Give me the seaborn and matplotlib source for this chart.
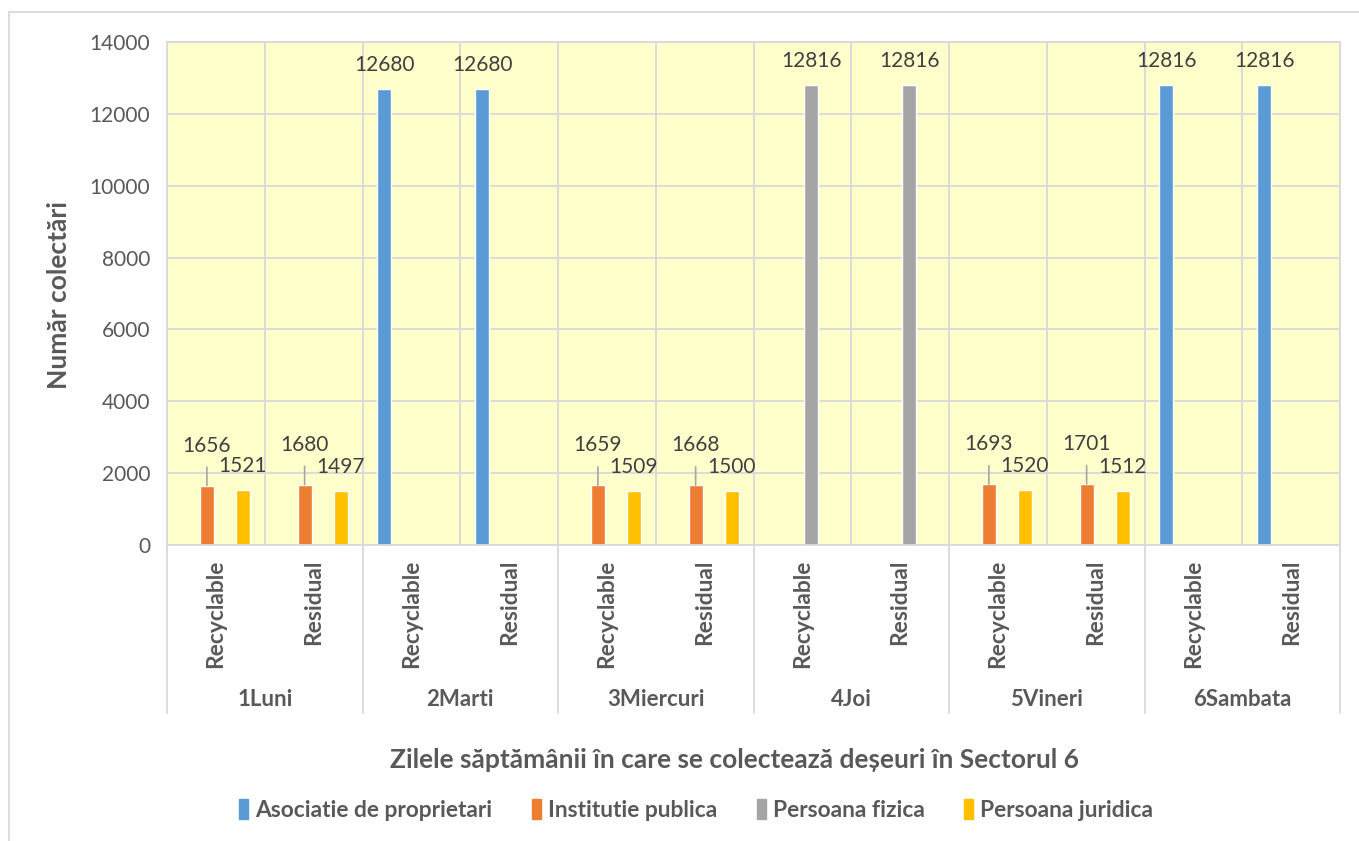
import pandas as pd
import matplotlib
matplotlib.use('Agg')
import matplotlib.pyplot as plt
import matplotlib.transforms as mtransforms
from matplotlib.patches import Rectangle
import seaborn as sns

# data
days = ['1Luni', '2Marti', '3Miercuri', '4Joi', '5Vineri', '6Sambata']
types = ['Recyclable', 'Residual']
series = ['Asociatie de proprietari', 'Institutie publica', 'Persoana fizica', 'Persoana juridica']
asociatie = [0, 0, 12680, 12680, 0, 0, 0, 0, 0, 0, 12816, 12816]
institutie = [1656, 1680, 0, 0, 1659, 1668, 0, 0, 1693, 1701, 0, 0]
fizica = [0, 0, 0, 0, 0, 0, 12816, 12816, 0, 0, 0, 0]
juridica = [1521, 1497, 0, 0, 1509, 1500, 0, 0, 1520, 1512, 0, 0]
colors = ['#5B9BD5', '#ED7D31', '#A5A5A5', '#FFC000']

cats = [d + '|' + t for d in days for t in types]
rows = []
for name, vals in zip(series, [asociatie, institutie, fizica, juridica]):
    for c, v in zip(cats, vals):
        rows.append({'cat': c, 'serie': name, 'val': v})
df = pd.DataFrame(rows)

sns.set_theme(style='white')
plt.rcParams['font.family'] = ['Lato', 'DejaVu Sans']
grey_txt = '#595959'
grid_c = '#D9D9D9'

fig = plt.figure(figsize=(13.59, 8.41), dpi=100)
ax = fig.add_axes([167 / 1359, 1 - 545 / 841, (1340 - 167) / 1359, (545 - 42) / 841])
ax.set_facecolor('#FFFFCC')

sns.barplot(data=df, x='cat', y='val', hue='serie', order=cats, hue_order=series,
            palette=colors, width=0.736, gap=0.22, errorbar=None, ax=ax,
            legend=False, saturation=1)

ax.set_ylim(0, 14000)
ax.set_xlim(-0.5, len(cats) - 0.5)
ax.set_yticks(range(0, 14001, 2000))
ax.tick_params(axis='y', labelsize=15, colors=grey_txt, length=0, pad=12)
ax.set_xticks([])
ax.set_xlabel('')
ax.set_ylabel('')
ax.yaxis.grid(True, color=grid_c, linewidth=1.3)
for i in range(len(cats) + 1):
    ax.axvline(i - 0.5, color=grid_c, linewidth=1.3, zorder=0.5)
ax.set_axisbelow(True)
for s in ax.spines.values():
    s.set_color(grid_c)
    s.set_linewidth(1.3)

# data labels
for k, cont in enumerate(ax.containers):
    for bar in cont:
        h = bar.get_height()
        if h <= 0:
            continue
        x = bar.get_x() + bar.get_width() / 2
        if series[k] == 'Institutie publica':
            ax.annotate(f'{int(h)}', (x, h), xytext=(0, 40), textcoords='offset pixels',
                        ha='center', va='center', fontsize=15, color='#404040',
                        arrowprops=dict(arrowstyle='-', color='#A6A6A6', lw=1.2,
                                        shrinkA=6, shrinkB=0, relpos=(0.5, 0)))
        else:
            ax.annotate(f'{int(h)}', (x, h), xytext=(0, 24), textcoords='offset pixels',
                        ha='center', va='center', fontsize=15, color='#404040')

# multi-level category axis
trans = mtransforms.blended_transform_factory(ax.transData, fig.transFigure)
for i, c in enumerate(cats):
    ax.text(i, 1 - 560 / 841, c.split('|')[1], transform=trans, rotation=90,
            ha='center', va='top', fontsize=16.4, fontweight='bold', color=grey_txt)
for j, d in enumerate(days):
    ax.text(2 * j + 0.5, 1 - 700 / 841, d, transform=trans, ha='center', va='center',
            fontsize=16, fontweight='bold', color=grey_txt)
for j in range(len(days) + 1):
    ax.plot([2 * j - 0.5, 2 * j - 0.5], [1 - 545 / 841, 1 - 713 / 841], transform=trans,
            color=grid_c, linewidth=1.3, clip_on=False)

fig.text(59 / 1359, 1 - 295 / 841, 'Număr colectări', rotation=90, ha='center', va='center',
         fontsize=19, fontweight='bold', color=grey_txt)
fig.text(735 / 1359, 1 - 760 / 841,
         'Zilele săptămânii în care se colectează deșeuri în Sectorul 6',
         ha='center', va='center', fontsize=19, fontweight='bold', color=grey_txt)

handles = [Rectangle((0, 0), 1, 1, color=c) for c in colors]
leg = fig.legend(handles, series, loc='center', bbox_to_anchor=(696 / 1359, 1 - 810 / 841),
                 ncol=4, frameon=False, handlelength=0.4, handleheight=1.0, handletextpad=0.3,
                 columnspacing=1.75, prop={'size': 16.4, 'weight': 'bold'})
for t in leg.get_texts():
    t.set_color(grey_txt)

fig.patches.append(Rectangle((9 / 1359, -0.02), 1.1, 1 - 12 / 841 + 0.02, transform=fig.transFigure,
                             fill=False, edgecolor=grid_c, linewidth=1.3))

fig.savefig('out.png', dpi=100)
